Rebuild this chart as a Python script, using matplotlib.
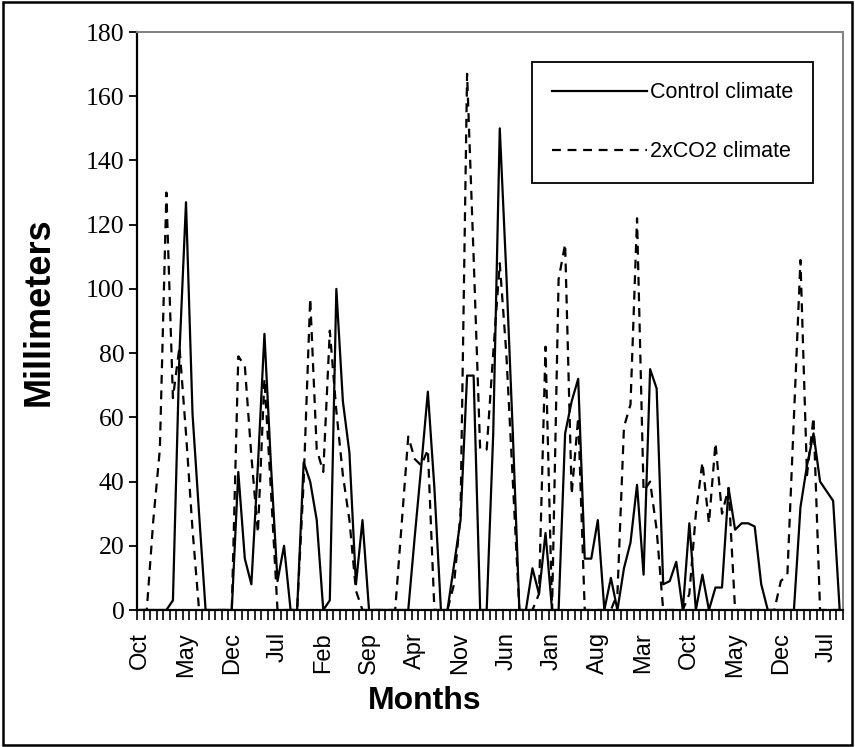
import numpy as np
import matplotlib.pyplot as plt
from matplotlib.patches import Rectangle

# monthly values, Oct of year 1 through Sep of year 9 (108 months)
control = [0, 0, 0, 0, 0, 3, 80, 127, 61, 30, 0, 0, 0, 0, 0, 43, 16, 8, 45, 86,
           45, 9, 20, 0, 0, 46, 40, 28, 0, 3, 100, 65, 49, 8, 28, 0, 0, 0, 0, 0,
           0, 0, 23, 45, 68, 38, 0, 0, 14, 28, 73, 73, 0, 0, 55, 150, 105, 55, 0, 0,
           13, 5, 24, 0, 0, 55, 65, 72, 16, 16, 28, 0, 10, 0, 13, 21, 39, 11, 75, 69,
           8, 9, 15, 0, 27, 0, 11, 0, 7, 7, 38, 25, 27, 27, 26, 8, 0, 0, 0, 0,
           0, 32, 45, 55, 40, 37, 34, 0]
co2 = [0, 0, 28, 50, 130, 66, 82, 55, 25, 0, 0, 0, 0, 0, 0, 79, 76, 48, 24, 72,
       37, 0, 0, 0, 0, 40, 97, 50, 43, 87, 62, 42, 28, 6, 0, 0, 0, 0, 0, 0,
       27, 54, 47, 45, 50, 0, 0, 0, 8, 30, 167, 110, 50, 50, 80, 108, 80, 40, 0, 0,
       0, 5, 82, 0, 103, 114, 36, 60, 0, 0, 0, 0, 0, 5, 57, 64, 122, 37, 40, 25,
       0, 0, 0, 0, 5, 30, 46, 27, 52, 30, 38, 0, 0, 0, 0, 0, 0, 0, 9, 11,
       60, 109, 42, 60, 0, 0, 0, 0]

month_names = ['Jan', 'Feb', 'Mar', 'Apr', 'May', 'Jun',
               'Jul', 'Aug', 'Sep', 'Oct', 'Nov', 'Dec']
months = [month_names[(9 + k) % 12] for k in range(len(control))]
yticks = list(range(0, 181, 20))

x = np.arange(len(control))

fig = plt.figure(figsize=(8.55, 7.47), dpi=100)
ax = fig.add_axes([0.1602, 0.1834, 0.8257, 0.7737])

ax.plot(x, control, color='black', lw=1.6, label='Control climate')
ax.plot(x, co2, color='black', lw=1.6, dashes=(4, 3), label='2xCO2 climate')

ax.set_xlim(-0.5, len(control) - 0.5)
ax.set_ylim(0, 180)

# y axis: Times-like numbers
ax.set_yticks(yticks, labels=[str(v) for v in yticks],
              fontfamily='Liberation Serif', fontsize=18.5)
ax.tick_params(axis='y', direction='out', length=6, width=1.3, pad=3)

# x axis: tick marks between months, labels every 7th month
ax.set_xticks(np.arange(-0.5, len(control), 1), minor=True)
ax.set_xticks(x[::7], labels=months[::7], rotation=90, fontsize=17,
              fontfamily='Liberation Sans')
ax.tick_params(axis='x', which='major', length=0, pad=16)
ax.tick_params(axis='x', which='minor', direction='out', length=7, width=1.2)

for side in ['left', 'bottom']:
    ax.spines[side].set_linewidth(1.6)
for side in ['top', 'right']:
    ax.spines[side].set_color('#808080')
    ax.spines[side].set_linewidth(1.4)

fig.text(39 / 855, 1 - 312 / 747, 'Millimeters', rotation=90, ha='center',
         va='center', fontsize=26, fontweight='bold', fontfamily='Liberation Sans')
fig.text(425 / 855, 1 - 701 / 747, 'Months', ha='center', va='center',
         fontsize=23, fontweight='bold', fontfamily='Liberation Sans')

leg = ax.legend(loc='upper left', bbox_to_anchor=(532 / 855, 1 - 62 / 747),
                bbox_transform=fig.transFigure, frameon=True, fancybox=False,
                edgecolor='black', framealpha=1, borderpad=0.95,
                labelspacing=1.75, handlelength=4.4, handletextpad=0.12,
                borderaxespad=0, prop={'family': 'Liberation Sans', 'size': 15.5})
leg.get_frame().set_linewidth(1.3)

# outer chart border
fig.patches.append(Rectangle((0.003, 0.003), 0.994, 0.994, transform=fig.transFigure,
                             fill=False, edgecolor='black', lw=1.8))

fig.savefig('out.png', dpi=100)
